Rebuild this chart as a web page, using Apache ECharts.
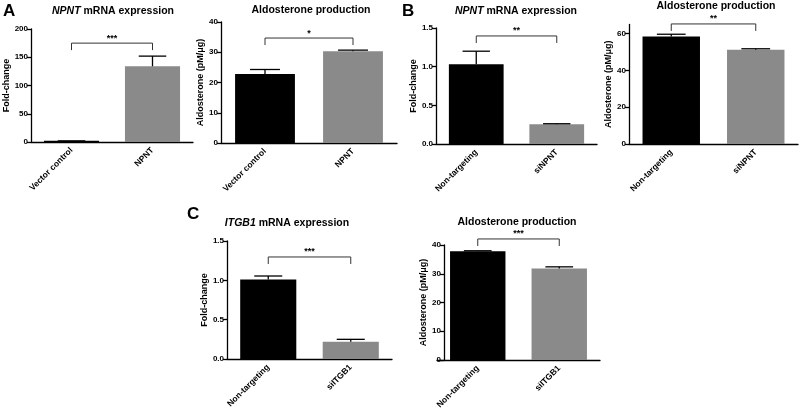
<!DOCTYPE html>
<html>
<head>
<meta charset="utf-8">
<script src="https://cdn.jsdelivr.net/npm/echarts@6/dist/echarts.min.js"></script>
<style>
  html, body { margin: 0; padding: 0; background: #fff; }
  #chart { width: 800px; height: 413px; }
</style>
</head>
<body>
<div id="chart"></div>
<script>
// ---------- data ----------
const catsA = ['Vector control', 'NPNT'];
const catsB = ['Non-targeting', 'siNPNT'];
const catsC = ['Non-targeting', 'siITGB1'];

const a1Mean = [2, 134];      const a1Upper = [2, 152];
const a2Mean = [22.8, 30.3];  const a2Upper = [24.3, 30.7];
const b1Mean = [1.03, 0.255]; const b1Upper = [1.2, 0.262];
const b2Mean = [58.5, 51.2];  const b2Upper = [59.7, 51.8];
const c1Mean = [1.01, 0.22];  const c1Upper = [1.055, 0.25];
const c2Mean = [37.8, 31.8];  const c2Upper = [38.0, 32.4];

const a1Ticks = [0, 50, 100, 150, 200];
const a2Ticks = [0, 10, 20, 30, 40];
const b1Ticks = [0, 0.5, 1.0, 1.5];
const b2Ticks = [0, 20, 40, 60];
const c1Ticks = [0, 0.5, 1.0, 1.5];
const c2Ticks = [0, 10, 20, 30, 40];

const sigLabels = ['***', '*', '**', '**', '***', '***'];
const sigLevels = [175, 34.7, 1.397, 65.3, 1.297, 42.1];

const titleGenes = ['NPNT', '', 'NPNT', '', 'ITGB1', ''];
const yNames = ['Fold-change', 'Aldosterone (pM/\u03bcg)', 'Fold-change', 'Aldosterone (pM/\u03bcg)', 'Fold-change', 'Aldosterone (pM/\u03bcg)'];

// ---------- layout / style ----------
const FONT = '"Liberation Sans", Arial, sans-serif';
const BLACK = '#000000';
const GRAY = '#8a8a8a';

const layout = [
  { left: 31,  top: 29,   width: 162, height: 113,   yMax: 200, offset: 0, fmt: 0, titleX: 113, titleY: 6 },
  { left: 221, top: 22,   width: 176, height: 121,   yMax: 40,  offset: 0, fmt: 0, titleX: 311, titleY: 5 },
  { left: 436, top: 28,   width: 161, height: 116,   yMax: 1.5, offset: 0, fmt: 1, titleX: 516, titleY: 6 },
  { left: 629, top: 24.5, width: 169, height: 119.5, yMax: 65,  offset: 0, fmt: 0, titleX: 716, titleY: 1 },
  { left: 227, top: 241,  width: 165, height: 118,   yMax: 1.5, offset: 0, fmt: 1, titleX: 287, titleY: 218 },
  { left: 437, top: 245,  width: 163, height: 115,   yMax: 40,  offset: -7, fmt: 0, titleX: 517, titleY: 217 }
];

const cats = [catsA, catsA, catsB, catsB, catsC, catsC];
const means = [a1Mean, a2Mean, b1Mean, b2Mean, c1Mean, c2Mean];
const uppers = [a1Upper, a2Upper, b1Upper, b2Upper, c1Upper, c2Upper];
const ticks = [a1Ticks, a2Ticks, b1Ticks, b2Ticks, c1Ticks, c2Ticks];

const grids = [], xAxes = [], yAxes = [], series = [], titles = [];

layout.forEach((L, i) => {
  grids.push({ left: L.left, top: L.top, width: L.width, height: L.height, containLabel: false });
  xAxes.push({
    type: 'category', gridIndex: i, data: cats[i],
    axisLine: { lineStyle: { color: BLACK, width: 1.3 } },
    axisTick: { alignWithLabel: true, length: 4, lineStyle: { color: BLACK, width: 1.3 } },
    axisLabel: { rotate: 45, margin: 7, color: BLACK, fontSize: 8.5, fontWeight: 'bold', fontFamily: FONT, interval: 0 }
  });
  yAxes.push({
    type: 'value', gridIndex: i, min: 0, max: L.yMax, offset: L.offset,
    name: yNames[i], nameLocation: 'middle', nameGap: 15,
    nameTextStyle: { color: BLACK, fontSize: 9, fontWeight: 'bold', fontFamily: FONT },
    splitLine: { show: false },
    axisLine: { show: true, lineStyle: { color: BLACK, width: 1.3 } },
    axisTick: { show: true, length: 4, lineStyle: { color: BLACK, width: 1.3 }, customValues: ticks[i] },
    axisLabel: {
      margin: 3, color: BLACK, fontSize: 8, fontWeight: 'bold', fontFamily: FONT,
      customValues: ticks[i],
      formatter: v => L.fmt ? v.toFixed(L.fmt) : String(v)
    }
  });
  series.push({
    type: 'bar', xAxisIndex: i, yAxisIndex: i, barWidth: '68%',
    data: means[i].map((v, k) => ({ value: v, itemStyle: { color: k === 0 ? BLACK : GRAY } })),
    silent: true, animation: false
  });
  series.push({
    type: 'custom', xAxisIndex: i, yAxisIndex: i, clip: false, animation: false, silent: true, z: 5,
    data: means[i].map((m, k) => [k, m, uppers[i][k]]),
    encode: { x: 0, y: [1, 2] },
    renderItem: (params, api) => {
      const base = api.coord([api.value(0), api.value(1)]);
      const top = api.coord([api.value(0), api.value(2)]);
      const band = api.size([1, 0])[0];
      const cap = band * 0.17;
      const st = { stroke: BLACK, lineWidth: 1.3 };
      return { type: 'group', children: [
        { type: 'line', shape: { x1: top[0], y1: base[1], x2: top[0], y2: top[1] }, style: st },
        { type: 'line', shape: { x1: top[0] - cap, y1: top[1], x2: top[0] + cap, y2: top[1] }, style: st }
      ]};
    }
  });
  series.push({
    type: 'custom', xAxisIndex: i, yAxisIndex: i, clip: false, animation: false, silent: true, z: 5,
    data: [[0, 1, sigLevels[i], sigLabels[i]]],
    encode: { x: [0, 1], y: 2 },
    renderItem: (params, api) => {
      const p0 = api.coord([api.value(0), api.value(2)]);
      const p1 = api.coord([api.value(1), api.value(2)]);
      const drop = 7;
      return { type: 'group', children: [
        { type: 'polyline', shape: { points: [[p0[0], p0[1] + drop], [p0[0], p0[1]], [p1[0], p1[1]], [p1[0], p1[1] + drop]] },
          style: { stroke: '#333', lineWidth: 1, fill: null } },
        { type: 'text', style: { x: (p0[0] + p1[0]) / 2, y: p0[1] - 5, text: sigLabels[i], align: 'center', verticalAlign: 'middle',
          fill: BLACK, font: 'bold 9px ' + FONT } }
      ]};
    }
  });
  const gene = titleGenes[i];
  titles.push({
    text: gene ? '{i|' + gene + '} mRNA expression' : 'Aldosterone production',
    left: L.titleX, top: L.titleY, textAlign: 'center', padding: 0,
    textStyle: {
      color: BLACK, fontSize: 10.5, fontWeight: 'bold', fontFamily: FONT,
      rich: { i: { fontStyle: 'italic', fontWeight: 'bold', fontSize: 10.5, fontFamily: FONT, color: BLACK } }
    }
  });
});

titles.push({ text: 'A', left: 3, top: 3, padding: 0, textStyle: { fontSize: 17, fontWeight: 'bold', fontFamily: FONT, color: BLACK } });
titles.push({ text: 'B', left: 402, top: 3, padding: 0, textStyle: { fontSize: 17, fontWeight: 'bold', fontFamily: FONT, color: BLACK } });
titles.push({ text: 'C', left: 187, top: 206, padding: 0, textStyle: { fontSize: 17, fontWeight: 'bold', fontFamily: FONT, color: BLACK } });

const chart = echarts.init(document.getElementById('chart'), null, { renderer: 'canvas' });
chart.setOption({
  backgroundColor: '#ffffff',
  animation: false,
  title: titles,
  grid: grids,
  xAxis: xAxes,
  yAxis: yAxes,
  series: series
});
</script>
</body>
</html>
